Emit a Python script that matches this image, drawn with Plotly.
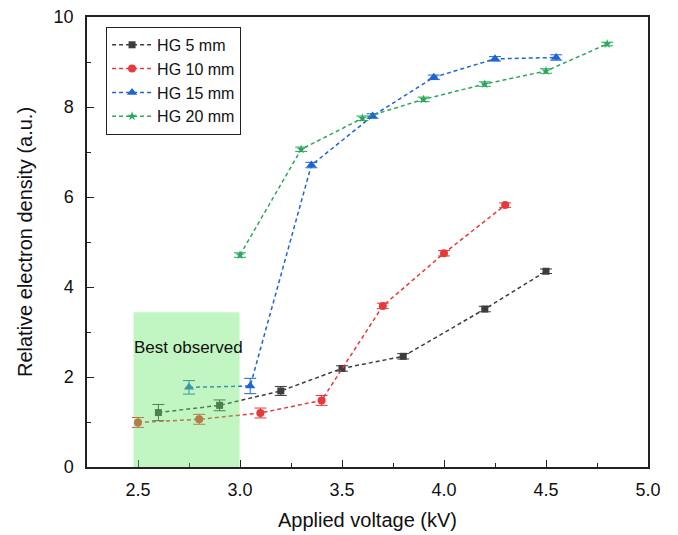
import plotly.graph_objects as go

x5 = [2.6, 2.9, 3.2, 3.5, 3.8, 4.2, 4.5]
y5 = [1.21, 1.37, 1.69, 2.19, 2.46, 3.51, 4.35]
e5 = [0.18, 0.12, 0.10, 0.06, 0.06, 0.06, 0.05]

x10 = [2.5, 2.8, 3.1, 3.4, 3.7, 4.0, 4.3]
y10 = [0.99, 1.06, 1.20, 1.48, 3.58, 4.75, 5.82]
e10 = [0.11, 0.11, 0.11, 0.11, 0.06, 0.06, 0.05]

x15 = [2.75, 3.05, 3.35, 3.65, 3.95, 4.25, 4.55]
y15 = [1.77, 1.80, 6.71, 7.80, 8.66, 9.07, 9.10]
e15 = [0.15, 0.17, 0.06, 0.05, 0.05, 0.05, 0.06]

x20 = [3.0, 3.3, 3.6, 3.9, 4.2, 4.5, 4.8]
y20 = [4.71, 7.06, 7.75, 8.17, 8.51, 8.80, 9.40]
e20 = [0.05, 0.05, 0.05, 0.05, 0.05, 0.05, 0.04]

names = ["HG 5 mm", "HG 10 mm", "HG 15 mm", "HG 20 mm"]
colors = ["#3d3d3d", "#e8383a", "#1e64d2", "#2aa85c"]
symbols = ["square", "circle", "triangle-up", "star"]
msizes = [7, 8, 9, 7]

best_x = [2.478, 2.998]
best_top = 3.44

fig = go.Figure()
for xs, ys, es, nm, c, s, ms in zip([x5, x10, x15, x20], [y5, y10, y15, y20],
                                     [e5, e10, e15, e20], names, colors, symbols, msizes):
    fig.add_trace(go.Scatter(
        x=xs, y=ys, name=nm, mode="lines+markers",
        line=dict(color=c, width=1.5, dash="4px,3px"),
        marker=dict(symbol=s, size=ms, color=c, line=dict(width=0)),
        error_y=dict(type="data", array=es, visible=True, color=c, thickness=1, width=6),
    ))

fig.add_shape(type="rect", x0=best_x[0], x1=best_x[1], y0=0, y1=best_top,
              xref="x", yref="y", fillcolor="rgba(100,230,100,0.4)",
              line=dict(width=0), layer="above")
fig.add_annotation(x=best_x[0], y=2.66, xref="x", yref="y", text="Best observed",
                   showarrow=False, xanchor="left", yanchor="middle", xshift=-2,
                   font=dict(family="Liberation Sans, Arial", size=17, color="#111"))

fig.update_layout(
    width=678, height=535,
    margin=dict(l=87, r=30, t=17, b=68),
    paper_bgcolor="white", plot_bgcolor="white",
    font=dict(family="Liberation Sans, Arial", size=18, color="#111"),
    showlegend=True,
    legend=dict(x=0.034, y=0.978, xanchor="left", yanchor="top",
                bordercolor="#222", borderwidth=1, bgcolor="white",
                font=dict(size=16), tracegroupgap=0, itemwidth=40),
    xaxis=dict(range=[2.25, 5.0], tickvals=[2.5, 3.0, 3.5, 4.0, 4.5, 5.0],
               tickformat=".1f", ticks="inside", ticklen=7, tickwidth=1.3,
               tickcolor="#222", ticklabelstandoff=6, automargin=False,
               minor=dict(tickvals=[2.75, 3.25, 3.75, 4.25, 4.75], ticks="inside",
                          ticklen=4, tickcolor="#222"),
               showline=True, linecolor="#222", linewidth=1.5, mirror=True,
               showgrid=False, zeroline=False,
               title=dict(text="Applied voltage (kV)", font=dict(size=20), standoff=14)),
    yaxis=dict(range=[0, 10], tickvals=[0, 2, 4, 6, 8, 10],
               ticks="inside", ticklen=7, tickwidth=1.3, tickcolor="#222",
               ticklabelstandoff=8, automargin=False,
               minor=dict(tickvals=[1, 3, 5, 7, 9], ticks="inside", ticklen=4,
                          tickcolor="#222"),
               showline=True, linecolor="#222", linewidth=1.5, mirror=True,
               showgrid=False, zeroline=False,
               title=dict(text="Relative electron density (a.u.)", font=dict(size=20),
                          standoff=16)),
)

fig.write_html("out.html")
